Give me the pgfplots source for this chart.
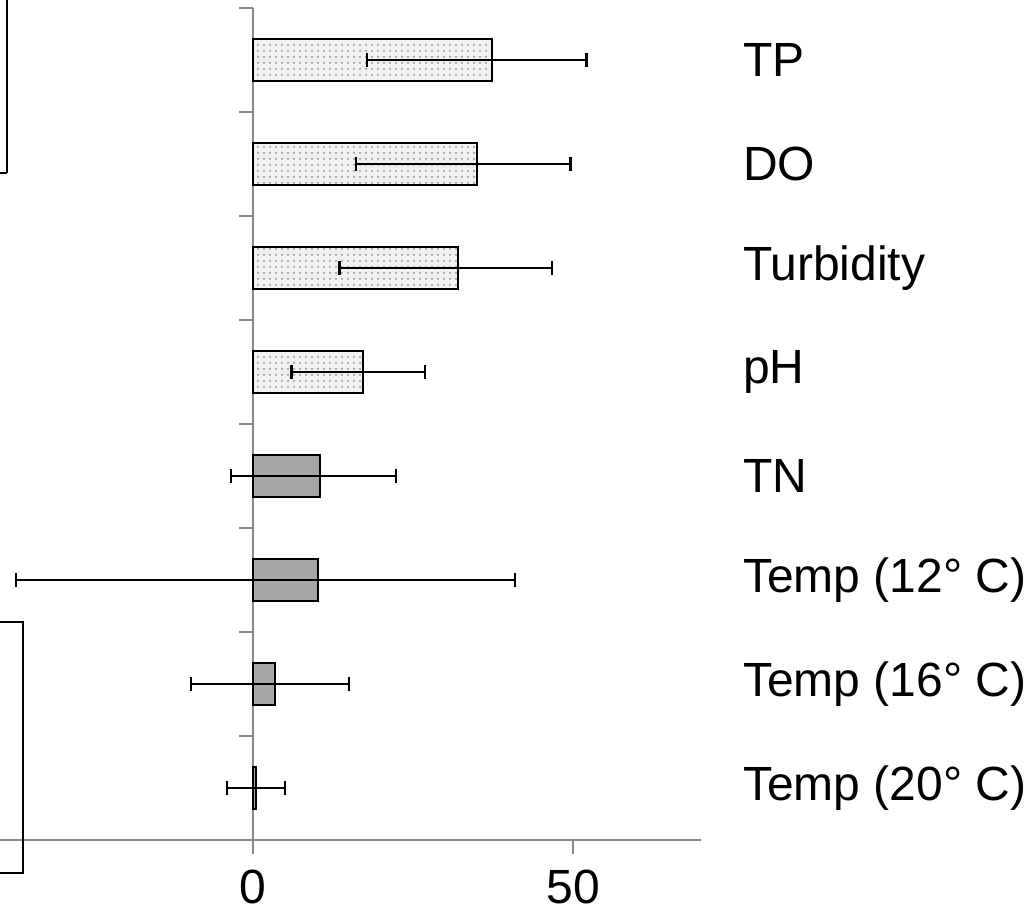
\documentclass[border=0pt]{standalone}
\usepackage{fontspec}
\setmainfont{Liberation Sans}
\usepackage{pgfplots}
\pgfplotsset{compat=1.18}
\usetikzlibrary{patterns}
\definecolor{axgray}{HTML}{898989}
\definecolor{barsolid}{HTML}{A6A6A6}

\begin{document}
\begin{tikzpicture}
\begin{axis}[
  xbar,
  bar width=20.85pt,
  bar shift=0pt,
  x=3.2pt, y=52pt,
  xmin=-50, xmax=70,
  ymin=0.5, ymax=8.5,
  axis x line=bottom,
  axis y line=middle,
  axis line style={-, draw=axgray, line width=1pt},
  xtick={0,50},
  ytick={0.5,1.5,...,8.5},
  yticklabels={},
  tick style={draw=axgray, line width=1pt},
  tick align=outside,
  major tick length=7pt,
  xticklabel style={yshift=-4.5pt},
  extra y ticks={1,2,3,4,5,6,7,8},
  extra y tick labels={Temp (20° C),Temp (16° C),Temp (12° C),TN,pH,Turbidity,DO,TP},
  extra y tick style={major tick length=0pt,
    yticklabel style={anchor=west, xshift=241.5pt}},
  every tick label/.append style={font=\fontsize{24}{29}\selectfont},
  /pgf/number format/assume math mode=true,
  clip=false,
]
% dotted bars: TP, DO, Turbidity, pH
\addplot[draw=black, line width=1pt, fill=gray!12,
  postaction={pattern=dots, pattern color=gray!90},
  error bars/.cd, x dir=both, x explicit, error mark=|,
  error bar style={black, line width=1pt},
  error mark options={black, line width=1.1pt, mark size=3.5pt}]
coordinates {
  (37.3,8) += (14.8,0) -= (19.5,0)
  (35.0,7) += (14.6,0) -= (18.9,0)
  (32.1,6) += (14.6,0) -= (18.6,0)
  (17.2,5) += (9.7,0)  -= (11.2,0)
};
% solid bars: TN, temperatures
\addplot[draw=black, line width=1pt, fill=barsolid,
  error bars/.cd, x dir=both, x explicit, error mark=|,
  error bar style={black, line width=1pt},
  error mark options={black, line width=1.1pt, mark size=3.5pt}]
coordinates {
  (10.5,4) += (11.9,0) -= (13.9,0)
  (10.2,3) += (30.7,0) -= (47.2,0)
  (3.4,2)  += (11.6,0) -= (13.1,0)
  (0.5,1)  += (4.5,0)  -= (4.6,0)
};
\coordinate (O) at (axis cs:0,0.5);
\end{axis}
% boxes of the neighbouring panel, cut by the page edge
\draw[line width=1pt] ([xshift=-123.25pt,yshift=333.5pt]O) -- ([xshift=-123.25pt,yshift=500pt]O);
\draw[line width=1pt] ([xshift=-200pt,yshift=333.5pt]O) -- ([xshift=-123.25pt,yshift=333.5pt]O);
\draw[line width=1pt] ([xshift=-200pt,yshift=109pt]O) rectangle ([xshift=-115pt,yshift=-16.5pt]O);
\pgfresetboundingbox
\useasboundingbox ([xshift=-126.5pt,yshift=-37.5pt]O) rectangle ([xshift=390pt,yshift=420pt]O);
\end{tikzpicture}
\end{document}
